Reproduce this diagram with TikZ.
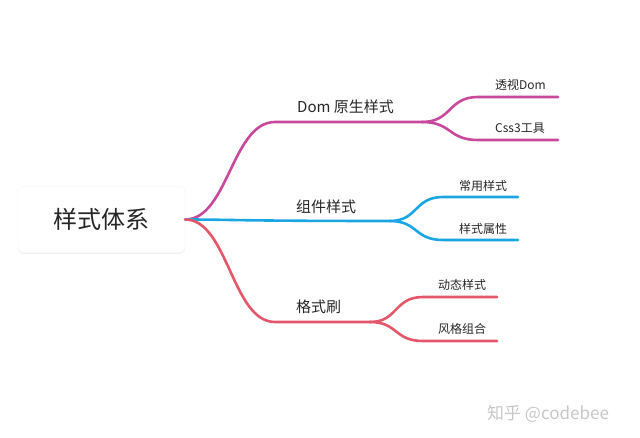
\documentclass[tikz,border=0pt]{standalone}
\usepackage{fontspec}
\setmainfont{Noto Sans CJK SC}
\usetikzlibrary{shadows}
\definecolor{dompink}{HTML}{C8489B}
\definecolor{partblue}{HTML}{1AA5E3}
\definecolor{brushred}{HTML}{E4566A}
\begin{document}
\begin{tikzpicture}[x=1pt,y=-1pt,
    branch/.style={line width=2.6pt, line cap=round},
    mainlab/.style={anchor=base west, inner sep=0pt, font=\fontsize{15}{15}\selectfont, text=black!85},
    sublab/.style={anchor=base west, inner sep=0pt, font=\fontsize{12}{12}\selectfont, text=black!85}]
    \useasboundingbox (0,0) rectangle (640,438);
    \node[fill=white, draw=black!4, rounded corners=6pt, minimum width=167pt, minimum height=66pt,
        drop shadow={shadow xshift=0pt, shadow yshift=-1.5pt, opacity=.1},
        font=\fontsize{24}{24}\selectfont, text=black!85] (root) at (101.5,219.5) {样式体系};
    % Dom branch
    \coordinate (dom) at (422,122);
    \coordinate (tsdom) at (558,97);
    \coordinate (css) at (558,140);
    \draw[branch, dompink] (root.east) .. controls (228,219.5) and (232,122) .. (275,122) -- (dom);
    \draw[branch, dompink] (dom) .. controls (452,122) and (448,97) .. (478,97) -- (tsdom);
    \draw[branch, dompink] (dom) .. controls (452,122) and (448,140) .. (478,140) -- (css);
    \node[mainlab] (domlab) at (297,112.5) {Dom 原生样式};
    \node[sublab] (tsdomlab) at (495,90) {透视Dom};
    \node[sublab] (csslab) at (495,133) {Css3工具};
    % component branch
    \coordinate (part) at (390,221);
    \coordinate (usual) at (518,197);
    \coordinate (attr) at (518,240);
    \draw[branch, partblue] (root.east) .. controls (230,219.5) and (240,221) .. (part);
    \draw[branch, partblue] (part) .. controls (418,221) and (414,197) .. (443,197) -- (usual);
    \draw[branch, partblue] (part) .. controls (418,221) and (414,240) .. (443,240) -- (attr);
    \node[mainlab] (partlab) at (296,213) {组件样式};
    \node[sublab] (usuallab) at (459,191) {常用样式};
    \node[sublab] (attrlab) at (459,234) {样式属性};
    % brush branch
    \coordinate (brush) at (370,322);
    \coordinate (dyn) at (497,297);
    \coordinate (mix) at (497,341);
    \draw[branch, brushred] (root.east) .. controls (228,219.5) and (232,322) .. (275,322) -- (brush);
    \draw[branch, brushred] (brush) .. controls (398,322) and (394,297) .. (423,297) -- (dyn);
    \draw[branch, brushred] (brush) .. controls (398,322) and (394,341) .. (423,341) -- (mix);
    \node[mainlab] (brushlab) at (296,313) {格式刷};
    \node[sublab] (dynlab) at (438,290) {动态样式};
    \node[sublab] (mixlab) at (438,334) {风格组合};
    \node[anchor=base west, inner sep=0pt, font=\fontsize{17}{17}\selectfont, text=black!22] (mark) at (487,419) {知乎 @codebee};
\end{tikzpicture}
\end{document}
